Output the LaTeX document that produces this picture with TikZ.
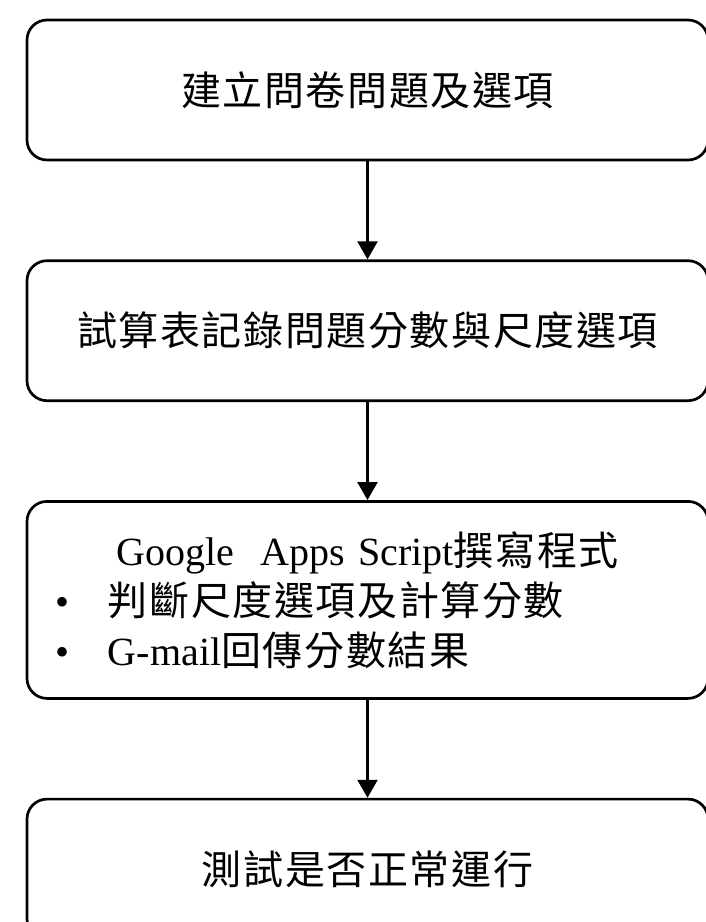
\documentclass[tikz,border=0pt]{standalone}
\usepackage{fontspec}
\setmainfont{Liberation Serif}
\newfontfamily\cjk[LetterSpace=4]{Noto Sans CJK TC}
\usetikzlibrary{positioning,arrows.meta}

\begin{document}
\begin{tikzpicture}[thick,node distance=98pt,
    step node/.style={draw,line width=2.7pt,rounded corners=20pt,
      minimum width=681pt,minimum height=140pt,
      font=\fontsize{40}{50}\selectfont}]
  \useasboundingbox (0,0) rectangle (706pt,-922pt);

  % Define steps
  \node[step node] (build) at (367.5pt,-90pt) {\cjk 建立問卷問題及選項};
  \node[step node] (sheet) [below=of build] {\cjk 試算表記錄問題分數與尺度選項};
  \node[step node,minimum height=197pt,text width=623pt,align=left] (script) [below=of sheet]
    {\makebox[623pt][c]{Google\ \ Apps Script{\cjk 撰寫程式}}\\
     \makebox[52pt][l]{\textbullet}{\cjk 判斷尺度選項及計算分數}\\
     \makebox[52pt][l]{\textbullet}G-mail{\cjk 回傳分數結果}};
  \node[step node] (test) [below=of script] {\cjk 測試是否正常運行};

  % Draw arrows
  \path[-{Triangle[width=20pt,length=18pt]},line width=2.3pt]
    (build) edge (sheet)
    (sheet) edge (script)
    (script) edge (test);

\end{tikzpicture}
\end{document}
